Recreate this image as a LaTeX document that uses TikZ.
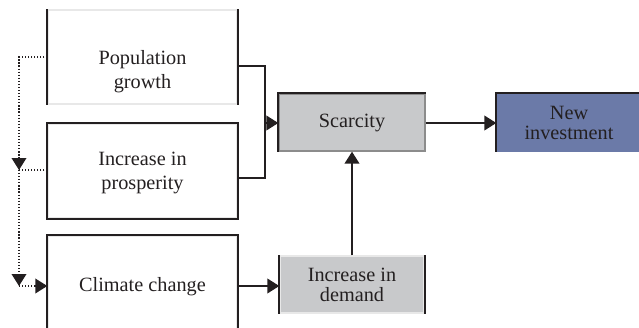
\documentclass[tikz,border=0pt]{standalone}
\usepackage{fontspec}
\setmainfont{Liberation Serif}
\usetikzlibrary{arrows.meta}
\definecolor{scgray}{HTML}{C8C9CB}
\definecolor{invblue}{HTML}{6B7AA8}
\definecolor{edgelight}{HTML}{E8E8E8}
\definecolor{ink}{HTML}{231F20}
\tikzset{
  box/.style={draw=edgelight, line width=1pt, inner sep=0pt, align=center},
  leftbox/.style={box, minimum width={189*0.75pt}},
  dark/.style={draw=ink, line width=1.3pt},
  lefttxt/.style={align=center, inner sep=0pt, text=ink, font=\fontsize{15.2pt}{18pt}\selectfont},
  righttxt/.style={text=ink, font=\fontsize{15.2pt}{15pt}\selectfont},
  conn/.style={draw=ink, line width=1.3pt},
  tip/.style={-{Triangle[length=9pt,width=11pt]}},
  dots/.style={draw=ink, line width=1.1pt, dash pattern=on 0.9pt off 1.4pt},
}
\begin{document}
\begin{tikzpicture}[x=0.75pt,y=-0.75pt]
\useasboundingbox (0,0) rectangle (639,328);
\clip (0,0) rectangle (639,328);
% left column boxes
\node[leftbox, minimum height={94*0.75pt}] (pop) at (142.5,57) {};
\node[leftbox, minimum height={94*0.75pt}] (prosp) at (142.5,171) {};
\node[leftbox, minimum height={100*0.75pt}] (clim) at (142.5,286) {};
\draw[dark] (pop.north west) -- (pop.south west);
\draw[dark] (pop.north east) -- (pop.south east);
\draw[dark] (prosp.north west) rectangle (prosp.south east);
\draw[dark] (clim.south west) -- (clim.north west) -- (clim.north east) -- (clim.south east);
\node[lefttxt] (poptxt) at (142.5,71.5) {Population\\growth};
\node[lefttxt] (prosptxt) at (142.5,173) {Increase in\\prosperity};
\node[lefttxt] (climtxt) at (142.5,287) {Climate change};
% right boxes
\node[box, righttxt, fill=scgray, draw=black!45, minimum width={146*0.75pt}, minimum height={57*0.75pt}] (scar) at (352,122.5) {Scarcity};
\draw[dark] (scar.south west) -- (scar.north west) -- (scar.north east);
\node[box, righttxt, fill=invblue, draw=invblue, minimum width={144*0.75pt}, minimum height={57*0.75pt}] (inv) at (569,122.5) {New\\investment};
\draw[dark] (inv.south west) -- (inv.north west) -- (inv.north east);
\node[box, righttxt, fill=scgray, minimum width={144*0.75pt}, minimum height={57*0.75pt}] (dem) at (352,284.5) {Increase in\\demand};
\draw[dark] (dem.north west) -- (dem.south west);
\draw[dark] (dem.north east) -- (dem.south east);
% solid connectors
\coordinate (jt) at (265,66);
\coordinate (jb) at (265,178);
\coordinate (jm) at (265,123);
\draw[conn] (pop.east |- jt) -- (jt) -- (jb) -- (prosp.east |- jb);
\draw[conn, tip] (jm) -- (scar.west |- jm);
\draw[conn, tip] (scar.east |- jm) -- (inv.west |- jm);
\draw[conn, tip] (dem.north) -- (scar.south);
\draw[conn, tip] (clim.east) -- (clim.east -| dem.west);
% dotted connectors
\coordinate (dtop) at (19,57);
\coordinate (dmid) at (19,170);
\coordinate (dbot) at (19,286);
\draw[dots, tip] (pop.west |- dtop) -- (dtop) -- (dmid);
\draw[dots] (prosp.west |- dmid) -- (dmid);
\draw[dots, tip] (dmid) -- (dbot);
\draw[dots, tip] (dbot) -- (clim.west);
\end{tikzpicture}
\end{document}
